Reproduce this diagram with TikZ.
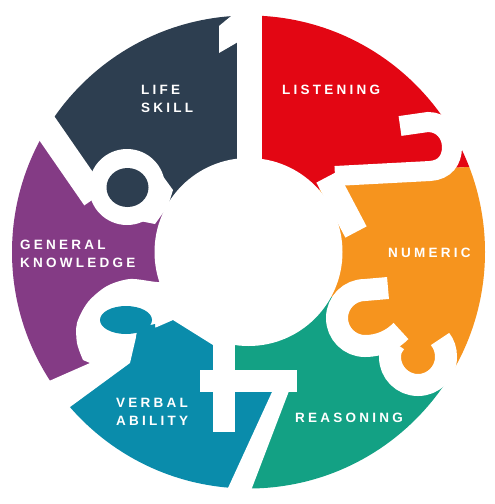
\documentclass[tikz,border=0pt]{standalone}
\usepackage{fontspec}
\newfontfamily\labfont{Liberation Sans Bold}[LetterSpace=24]
\definecolor{cnavy}{HTML}{2D3E50}
\definecolor{cred}{HTML}{E30613}
\definecolor{corange}{HTML}{F6941E}
\definecolor{cgreen}{HTML}{13A184}
\definecolor{cteal}{HTML}{0A8CAB}
\definecolor{cpurple}{HTML}{843B85}
\tikzset{
  wline/.style={draw=white, line width=22pt},
  lab/.style={text=white, font=\labfont\fontsize{13.5}{18}\selectfont, align=left, anchor=north west, inner sep=0pt}
}
\begin{document}
\begin{tikzpicture}[x=1pt,y=-1pt]
\useasboundingbox (0,0) rectangle (495,504);
\fill[white] (0,0) rectangle (495,504);
\coordinate (C) at (248.5,252);
% coloured sectors
\begin{scope}
\clip (C) circle (236.5pt);
\fill[cnavy] (C) -- (165,205) -- (130,215) -- (100,205) -- (30,104) -- (-40,2) -- (-40,-100) -- (249.5,-100) -- cycle;
\fill[cred] (C) -- (249.5,-100) -- (600,-100) -- (600,160) -- (450,168) -- (335,176) -- cycle;
\fill[corange] (C) -- (335,176) -- (450,168) -- (600,160) -- (650,400) -- (470,372) -- (436,380) -- (418,385) -- (405,381) -- (392,365) -- (384,348) -- (365,346) -- (345,338) -- (337,318) -- (337,300) -- cycle;
\fill[cgreen] (C) -- (337,300) -- (337,318) -- (345,338) -- (365,346) -- (384,348) -- (392,365) -- (405,381) -- (418,385) -- (436,380) -- (470,372) -- (650,400) -- (650,650) -- (195,600) -- (240,488) -- (284.5,381) -- (224,381) -- (224,340) -- cycle;
\fill[cteal] (C) -- (224,340) -- (224,381) -- (284.5,381) -- (240,488) -- (195,600) -- (-100,600) -- (-40,470) -- (50,404) -- (100,362) -- (87,330) -- (125,291) -- (170,290) -- cycle;
\fill[cpurple] (C) -- (170,290) -- (125,291) -- (87,330) -- (100,362) -- (50,404) -- (-40,470) -- (-60,470) -- (-60,2) -- (-40,2) -- (30,104) -- (100,205) -- (130,215) -- (165,205) -- cycle;
\end{scope}
% digit 1
\fill[white] (237,-5) rectangle (262,252);
\fill[white] (236,12) -- (219,26) -- (219,53) -- (238,42) -- (238,5) -- cycle;
% digit 2
\draw[wline, line width=20pt] (400,126) -- (428,122) .. controls (442,122) and (452,133) .. (452,147) .. controls (452,160) and (445,170) .. (430,171) -- (335,176);
\draw[wline, line width=24pt] (327,177) -- (356,232);
% digit 3
\draw[wline] (388,288) -- (365,290) .. controls (349.5,290) and (337,302.5) .. (337,318) .. controls (337,333.5) and (349.5,346) .. (365,346) .. controls (380,346) and (392,340) .. (401,331);
\draw[wline] (395,343) .. controls (391,348) and (390,352) .. (390,357) .. controls (390,372.5) and (402.5,385) .. (418,385) .. controls (433.5,385) and (446,372.5) .. (446,357) .. controls (446,350) and (444,344) .. (440,339);
% digit 4
\draw[wline] (224,300) -- (224,432);
\draw[wline] (200,381) -- (297,381);
\fill[white] (297,370) -- (272,392) -- (222.5,500) -- (247.4,500) -- cycle;
% digit 5
\fill[white] plot[smooth] coordinates {(180,282) (157,282) (130,279) (107,286) (88,302) (77,323) (77,343) (83,360)} -- (90,363) -- (40,385) -- (40,420) -- (70,407) -- (130,363) -- (137,333) -- (157,327) -- (173,320) -- (213,345) -- (213,330) -- (185,290) -- cycle;
\fill[cteal] (126,320) ellipse [x radius=26pt, y radius=14pt];
\fill[cteal] (137,328) -- (155,324) -- (158,368) -- (134,368) -- cycle;
% digit 6
\draw[wline, line width=26pt] (30,104) -- (95,198);
\fill[white] (127,187) circle (38pt);
\fill[white] (157,168) -- (173,190) -- (168,206) -- (155,224) -- (140,221) -- cycle;
\fill[cnavy] (127.5,187.5) ellipse [x radius=21pt, y radius=19.5pt];
% centre
\fill[white] (C) circle (94pt);
% labels
\node[lab] (life) at (141,85) {LIFE\\SKILL};
\node[lab] (listen) at (282,85) {LISTENING};
\node[lab] (numeric) at (388,248) {NUMERIC};
\node[lab] (reason) at (295,413) {REASONING};
\node[lab] (verbal) at (116,398) {VERBAL\\ABILITY};
\node[lab] (gk) at (20,240) {GENERAL\\KNOWLEDGE};
\end{tikzpicture}
\end{document}
